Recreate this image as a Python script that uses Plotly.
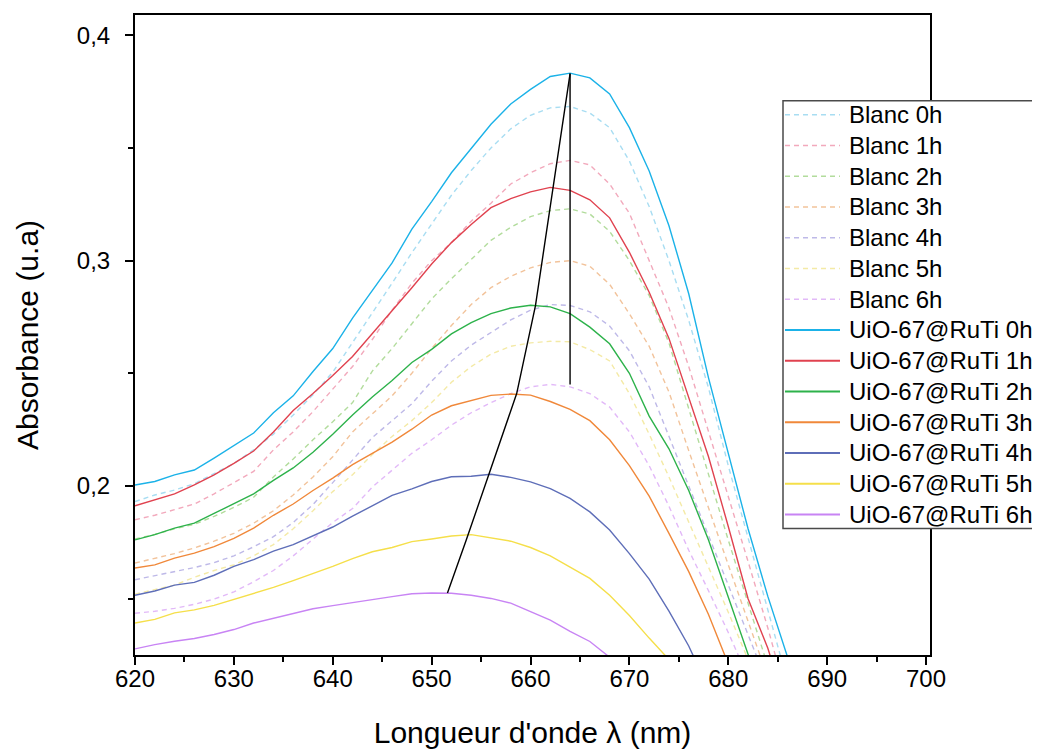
import plotly.graph_objects as go

# ---------------- data ----------------
wavelength = list(range(620, 688, 2))  # nm, 620 .. 686

blanc_0h = [.1931, .1960, .1982, .2010, .2055, .2100, .2160, .2230, .2315, .2405, .2505, .2635,
            .2765, .2900, .3035, .3160, .3290, .3400, .3500, .3585, .3645, .3678, .3684, .3655,
            .3590, .3442, .3240, .3000, .2735, .2435, .2090, .1770, .1450, .1130]
blanc_1h = [.1850, .1870, .1895, .1920, .1965, .2015, .2065, .2160, .2240, .2330, .2430, .2530,
            .2650, .2780, .2900, .3000, .3080, .3175, .3255, .3340, .3390, .3430, .3445, .3425,
            .3340, .3210, .3000, .2790, .2530, .2245, .1960, .1665, .1370, .1050]
blanc_2h = [.1765, .1785, .1810, .1830, .1865, .1905, .1950, .2040, .2120, .2205, .2285, .2370,
            .2510, .2610, .2720, .2830, .2920, .3005, .3090, .3148, .3195, .3222, .3230, .3207,
            .3130, .3000, .2845, .2635, .2340, .2050, .1760, .1480, .1200]
blanc_3h = [.1658, .1678, .1700, .1725, .1755, .1790, .1835, .1890, .1960, .2040, .2130, .2240,
            .2320, .2400, .2500, .2610, .2712, .2805, .2880, .2930, .2968, .2992, .3000, .2975,
            .2895, .2764, .2620, .2417, .2157, .1900, .1650, .1400, .1150]
blanc_4h = [.1584, .1602, .1620, .1638, .1660, .1690, .1730, .1775, .1838, .1918, .2015, .2115,
            .2215, .2290, .2365, .2465, .2555, .2625, .2680, .2737, .2780, .2805, .2801, .2773,
            .2710, .2600, .2440, .2220, .2000, .1780, .1560, .1340, .1120]
blanc_5h = [.1520, .1540, .1560, .1595, .1625, .1650, .1690, .1740, .1810, .1890, .1975, .2050,
            .2140, .2220, .2290, .2370, .2460, .2530, .2585, .2620, .2635, .2642, .2640, .2605,
            .2555, .2410, .2230, .2040, .1840, .1640, .1440, .1230, .1020]
blanc_6h = [.1435, .1444, .1457, .1475, .1498, .1530, .1575, .1625, .1690, .1765, .1838, .1900,
            .1995, .2070, .2145, .2205, .2270, .2325, .2370, .2410, .2440, .2451, .2440, .2410,
            .2350, .2240, .2090, .1910, .1715, .1535, .1350, .1150]

uio_0h = [.2004, .2020, .2049, .2071, .2124, .2181, .2235, .2325, .2400, .2508, .2610, .2745,
          .2870, .2990, .3140, .3262, .3390, .3500, .3605, .3695, .3760, .3817, .3832, .3811,
          .3740, .3590, .3398, .3155, .2853, .2480, .2140, .1810, .1510, .1240]
uio_1h = [.1912, .1938, .1965, .2005, .2049, .2100, .2155, .2240, .2335, .2410, .2490, .2575,
          .2675, .2780, .2880, .2985, .3080, .3160, .3235, .3275, .3305, .3325, .3312, .3270,
          .3190, .3037, .2860, .2655, .2390, .2130, .1820, .1500, .1280, .1000]
uio_2h = [.1761, .1784, .1813, .1835, .1878, .1923, .1965, .2025, .2080, .2150, .2230, .2315,
          .2395, .2468, .2548, .2606, .2675, .2725, .2765, .2790, .2802, .2795, .2765, .2705,
          .2631, .2500, .2310, .2165, .1980, .1760, .1510, .1260, .1000]
uio_3h = [.1636, .1650, .1680, .1702, .1731, .1768, .1813, .1870, .1920, .1980, .2035, .2095,
          .2145, .2195, .2252, .2315, .2356, .2380, .2402, .2408, .2403, .2375, .2340, .2290,
          .2205, .2090, .1955, .1790, .1620, .1430, .1210, .0950]
uio_4h = [.1515, .1534, .1560, .1572, .1604, .1643, .1673, .1711, .1740, .1778, .1818, .1866,
          .1913, .1958, .1987, .2020, .2041, .2043, .2052, .2038, .2018, .1988, .1945, .1885,
          .1805, .1700, .1587, .1445, .1290, .1100]
uio_5h = [.1392, .1408, .1437, .1450, .1470, .1496, .1522, .1550, .1580, .1611, .1643, .1678,
          .1708, .1727, .1753, .1765, .1778, .1784, .1771, .1755, .1727, .1690, .1640, .1590,
          .1515, .1425, .1325, .1230, .1100]
uio_6h = [.1277, .1296, .1311, .1323, .1341, .1363, .1392, .1414, .1435, .1455, .1469, .1483,
          .1498, .1509, .1522, .1525, .1524, .1515, .1501, .1480, .1442, .1405, .1355, .1310,
          .1240, .1150]

# peak-shift guide lines
peak_wl = [664, 662.3, 660.5, 658.6, 655.8, 653.5, 651.6]
peak_abs = [0.383, 0.333, 0.280, 0.241, 0.205, 0.176, 0.1525]
ref_wl = [664, 664]
ref_abs = [0.383, 0.245]

blanc_names = ["Blanc 0h", "Blanc 1h", "Blanc 2h", "Blanc 3h", "Blanc 4h", "Blanc 5h", "Blanc 6h"]
uio_names = ["UiO-67@RuTi 0h", "UiO-67@RuTi 1h", "UiO-67@RuTi 2h", "UiO-67@RuTi 3h",
             "UiO-67@RuTi 4h", "UiO-67@RuTi 5h", "UiO-67@RuTi 6h"]
blanc_series = [blanc_0h, blanc_1h, blanc_2h, blanc_3h, blanc_4h, blanc_5h, blanc_6h]
uio_series = [uio_0h, uio_1h, uio_2h, uio_3h, uio_4h, uio_5h, uio_6h]

blanc_colors = ["#A8DDF2", "#F2A9BC", "#B2DC9C", "#F2C39B", "#BEB9E8", "#F4EAA6", "#E2B9F8"]
uio_colors = ["#1BB2E8", "#E0424F", "#2DB24B", "#F0883A", "#5E6EB8", "#F5DF4A", "#C884F4"]

x_ticks = [620, 630, 640, 650, 660, 670, 680, 690, 700]
y_ticks = [0.2, 0.3, 0.4]
y_ticktext = ["0,2", "0,3", "0,4"]

# ---------------- layout geometry (figure pixels) ----------------
FIG_W, FIG_H = 1040, 749
M_L, M_T = 127, 5
PLOT_W, PLOT_H = 795, 642
M_R = FIG_W - M_L - PLOT_W
M_B = FIG_H - M_T - PLOT_H


def px_to_paper_x(px):
    return (px - M_L) / PLOT_W


def px_to_paper_y(py):
    return (M_T + PLOT_H - py) / PLOT_H


# legend box (figure pixels)
LEG_X0, LEG_X1, LEG_Y0, LEG_Y1 = 775, 1030, 91, 520
LEG_ROW0, LEG_ROW_H = 105, 30.85
LEG_LINE_X0, LEG_LINE_X1, LEG_TEXT_X = 777, 832, 839

DASH = "5px,4px"
font_family = "Arial, 'Liberation Sans', sans-serif"

# ---------------- figure ----------------
fig = go.Figure()

for name, vals, col in zip(blanc_names, blanc_series, blanc_colors):
    fig.add_trace(go.Scatter(x=wavelength[:len(vals)], y=vals, mode="lines", name=name,
                             showlegend=False, line=dict(color=col, width=1.4, dash=DASH)))
for name, vals, col in zip(uio_names, uio_series, uio_colors):
    fig.add_trace(go.Scatter(x=wavelength[:len(vals)], y=vals, mode="lines", name=name,
                             showlegend=False, line=dict(color=col, width=1.4)))

fig.add_trace(go.Scatter(x=peak_wl, y=peak_abs, mode="lines", showlegend=False,
                         line=dict(color="black", width=1.4), hoverinfo="skip"))
fig.add_trace(go.Scatter(x=ref_wl, y=ref_abs, mode="lines", showlegend=False,
                         line=dict(color="black", width=1.4), hoverinfo="skip"))

# legend drawn as a boxed key (line sample + label per series)
shapes = [dict(type="rect", xref="paper", yref="paper",
               x0=px_to_paper_x(LEG_X0), x1=px_to_paper_x(LEG_X1),
               y0=px_to_paper_y(LEG_Y1), y1=px_to_paper_y(LEG_Y0),
               line=dict(color="#4a4a4a", width=1.5), fillcolor="white", layer="above")]
annotations = []
legend_entries = ([(n, c, DASH, 1.6) for n, c in zip(blanc_names, blanc_colors)] +
                  [(n, c, "solid", 2.0) for n, c in zip(uio_names, uio_colors)])
for i, (name, col, dash, w) in enumerate(legend_entries):
    yc = px_to_paper_y(LEG_ROW0 + i * LEG_ROW_H)
    shapes.append(dict(type="line", xref="paper", yref="paper",
                       x0=px_to_paper_x(LEG_LINE_X0), x1=px_to_paper_x(LEG_LINE_X1),
                       y0=yc, y1=yc, line=dict(color=col, width=w, dash=dash), layer="above"))
    annotations.append(dict(text=name, xref="paper", yref="paper", x=px_to_paper_x(LEG_TEXT_X),
                            y=yc, xanchor="left", yanchor="middle", showarrow=False,
                            font=dict(size=24, family=font_family, color="black")))

fig.update_layout(
    width=FIG_W, height=FIG_H,
    margin=dict(l=M_L, r=M_R, t=M_T, b=M_B),
    paper_bgcolor="white", plot_bgcolor="white",
    font=dict(family=font_family, size=24, color="black"),
    showlegend=False,
    shapes=shapes,
    annotations=annotations,
)

fig.update_xaxes(
    range=[620, 700.4], tickvals=x_ticks, ticks="outside", ticklen=8, tickwidth=2,
    tickcolor="black", showline=True, linewidth=2, linecolor="black", mirror=True,
    showgrid=False, zeroline=False, tickfont=dict(size=24), ticklabelstandoff=-7,
    minor=dict(dtick=5, tick0=620, ticks="outside", ticklen=5, tickwidth=2, tickcolor="black", showgrid=False),
    title=dict(text="Longueur d'onde λ (nm)", font=dict(size=30), standoff=31),
)
fig.update_yaxes(
    range=[0.125, 0.409], tickvals=y_ticks, ticktext=y_ticktext, ticks="outside", ticklen=8,
    tickwidth=2, tickcolor="black", showline=True, linewidth=2, linecolor="black", mirror=True,
    showgrid=False, zeroline=False, tickfont=dict(size=24), ticklabelstandoff=10,
    minor=dict(dtick=0.05, tick0=0, ticks="outside", ticklen=5, tickwidth=2, tickcolor="black", showgrid=False),
    title=dict(text="Absorbance (u.a)", font=dict(size=30), standoff=29),
)

fig.write_html("out.html")
